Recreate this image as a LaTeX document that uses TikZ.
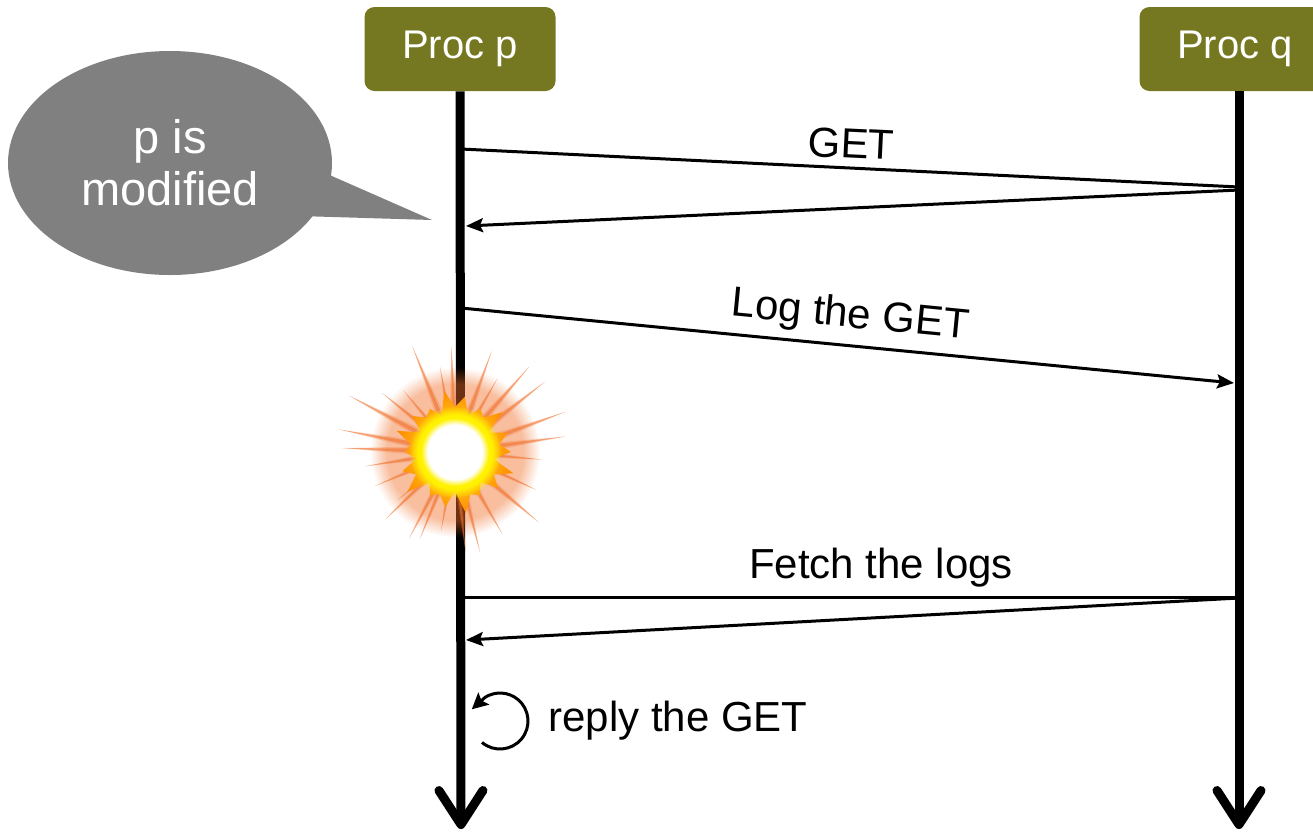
\documentclass[tikz,border=0pt]{standalone}
\usepackage{fontspec}
\setmainfont{Liberation Sans}
\usetikzlibrary{positioning,arrows.meta,shapes.callouts,fadings}
\definecolor{procolive}{RGB}{117,120,32}
\definecolor{bubblegray}{RGB}{128,128,128}
\definecolor{blastorange}{RGB}{240,110,40}
\tikzset{
proc/.style={shape=rectangle, rounded corners=5pt, fill=procolive, text=white, minimum width=95.5pt, minimum height=42pt, font=\fontsize{20}{24}\selectfont},
lifeline/.style={line width=4.5pt, -{Straight Barb[length=17pt,width=22pt,round]}},
msg/.style={line width=1.5pt},
msgarrow/.style={msg, -{Stealth[length=8.5pt,width=7pt,inset=1.5pt]}},
msglabel/.style={font=\fontsize{21}{25}\selectfont, sloped, above, inner sep=4pt},
}

\begin{document}
\begin{tikzpicture}[x=0.5pt, y=-0.5pt]
\useasboundingbox (0,0) rectangle (1313,832);
% the two processes and their time lines
\node[proc] (procp) at (460,49) {Proc p};
\node[proc] (procq) at (1235,49) {Proc q};
\coordinate (pend) at (461,829);
\coordinate (qend) at (1239,829);
\draw[lifeline] (procp.south) -- (pend);
\draw[lifeline] (procq.south -| qend) -- (qend);

% messages
\coordinate (get1) at (461,149);
\coordinate (get2) at (1239,187);
\coordinate (get3) at (1239,190);
\coordinate (get4) at (466,226);
\draw[msg] (get1) -- node[msglabel] {GET} (get2);
\draw[msgarrow] (get3) -- (get4);

\coordinate (log1) at (461,308);
\coordinate (log2) at (1234,383);
\draw[msgarrow] (log1) -- node[msglabel] {Log the GET} (log2);

\coordinate (fetch1) at (461,597);
\coordinate (fetch2) at (1239,597);
\coordinate (fetch3) at (1239,598);
\coordinate (fetch4) at (466,640);
\draw[msg] (fetch1) -- node[msglabel, pos=0.54] {Fetch the logs} (fetch2);
\draw[msgarrow] (fetch3) -- (fetch4);

% local step on p
\coordinate (loopc) at (500,721);
\draw[msg, -{Stealth[length=8pt,width=8pt,inset=1.5pt]}] ([shift={(-130:14pt)}]loopc) arc[start angle=-130, end angle=122, radius=14pt] -- ++(222:9pt);
\node[right=22pt of loopc, inner sep=2pt, font=\fontsize{21}{25}\selectfont] (reply) {reply the GET};

% speech bubble
\node[ellipse callout, fill=bubblegray, text=white, minimum width=162pt, minimum height=112pt, callout absolute pointer={(432,220)}, callout pointer arc=22, align=center, font=\fontsize{23.5}{25}\selectfont] (bubble) at (170,163) {p is\\[1pt]modified};

% crash of p
\coordinate (blast) at (455,452);
\fill[blastorange, opacity=0.45, path fading=circle with fuzzy edge 20 percent] (blast) circle (85);
\foreach \a/\r in {248/114, 191/118, -20/117, -38/114, -92/106, -49/113, 219/94, 171/91, 157/87, 136/97, 118/98, 76/103, 40/109, -8/111, 182/113, -100/87, 5/87, 112/94, -70/107, 208/120, 84/100, 60/95, 25/90, 230/80, 140/75, -60/85, 100/80}
{
  \fill[blastorange, opacity=0.25] (blast) -- ([shift={(\a+6:{0.35*\r})}]blast) -- ([shift={(\a:\r)}]blast) -- ([shift={(\a-6:{0.35*\r})}]blast) -- cycle;
  \fill[blastorange, opacity=0.55] (blast) -- ([shift={(\a+2.5:{0.4*\r})}]blast) -- ([shift={(\a:\r)}]blast) -- ([shift={(\a-2.5:{0.4*\r})}]blast) -- cycle;
}
\shade[inner color=yellow!80!white, outer color=orange!90!yellow] ([shift={(0:56)}]blast) \foreach \i in {1,...,35} { -- ([shift={(\i*10:{ifthenelse(mod(\i,2)==0,50+6*mod(\i,3),36+3*mod(\i,4))})}]blast) } -- cycle;
\fill[yellow, path fading=circle with fuzzy edge 20 percent] (blast) circle (46);
\fill[white, path fading=circle with fuzzy edge 20 percent] (blast) circle (34);
\end{tikzpicture}
\end{document}
